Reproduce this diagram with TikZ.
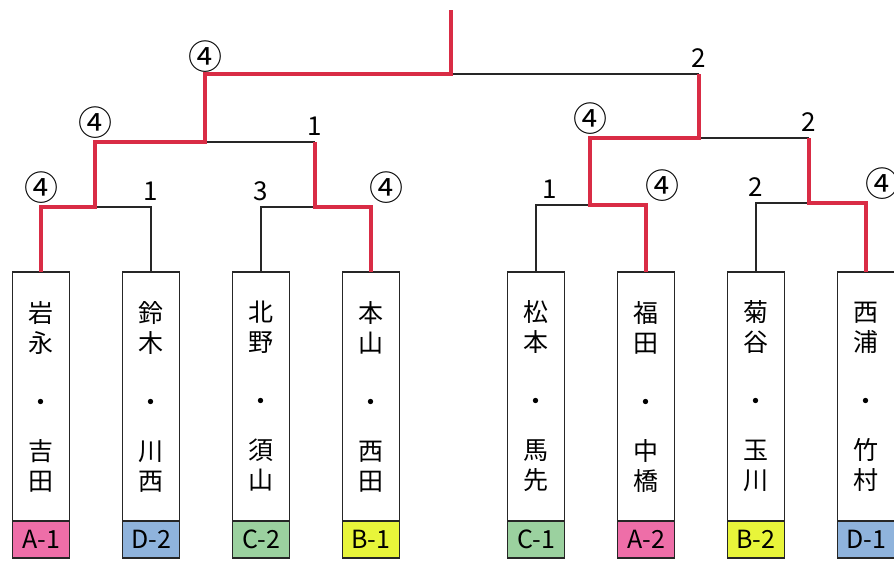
\documentclass[tikz,border=0pt]{standalone}
\usepackage{fontspec}
\newfontfamily\jpfont{Noto Sans CJK JP}
\usetikzlibrary{positioning, calc}
\definecolor{winred}{HTML}{D92C45}
\definecolor{grpA}{HTML}{EE6EA8}
\definecolor{grpB}{HTML}{E8F53A}
\definecolor{grpC}{HTML}{9BD19F}
\definecolor{grpD}{HTML}{8FB3DC}

\begin{document}
\begin{tikzpicture}[x=1pt, y=-1pt,% styles used in image code
    win/.style = {draw=winred, line width=4pt},
   lose/.style = {draw=black!85, line width=1.5pt},
 player/.style = {draw=black!85, line width=1.8pt, fill=white,
                  minimum width=57pt, minimum height=249pt,
                  inner sep=0pt, outer sep=0pt, anchor=north,
                  align=center, font=\jpfont\fontsize{25}{30}\selectfont},
   band/.style = {draw=black!85, line width=1.8pt, fill=#1,
                  minimum width=57pt, minimum height=37pt,
                  inner sep=0pt, outer sep=0pt, anchor=north,
                  font=\jpfont\fontsize{25}{25}\selectfont},
  score/.style = {inner sep=1pt, font=\jpfont\fontsize{26}{26}\selectfont},
   circ/.style = {inner sep=0pt, font=\jpfont\fontsize{34}{34}\selectfont}
                    ]
	\useasboundingbox (0,0) rectangle (894,560);

	% players
	\foreach \i/\x/\a/\b/\c/\d/\g/\t in {1/41/岩/永/吉/田/grpA/A-1,
	                                      2/151/鈴/木/川/西/grpD/D-2,
	                                      3/261/北/野/須/山/grpC/C-2,
	                                      4/371/本/山/西/田/grpB/B-1,
	                                      5/536/松/本/馬/先/grpC/C-1,
	                                      6/646/福/田/中/橋/grpA/A-2,
	                                      7/756/菊/谷/玉/川/grpB/B-2,
	                                      8/866/西/浦/竹/村/grpD/D-1}
	{
		\node[player] (p\i) at (\x,272) {\a\\\b\\[29pt]・\\[19pt]\c\\\d};
		\node[band=\g] (b\i) at (p\i.south) {\t};
	}

	% bracket joints
	\coordinate (j1) at (95,207);
	\coordinate (j2) at (315,207);
	\coordinate (j3) at (590,205);
	\coordinate (j4) at (809,203);
	\coordinate (k1) at (205,142);
	\coordinate (k2) at (699,138);
	\coordinate (f) at (451,74);
	\coordinate (top) at (451,10);

	% losers
	\draw[lose] (p2.north) |- (j1);
	\draw[lose] (p3.north) |- (j2);
	\draw[lose] (p5.north) |- (j3);
	\draw[lose] (p7.north) |- (j4);
	\draw[lose] (j2 |- k1) -- (k1);
	\draw[lose] (j4 |- k2) -- (k2);
	\draw[lose] (k2 |- f) -- (f);

	% winners
	\draw[win] (p1.north) |- (j1) |- (k1) |- (f) -- (top);
	\draw[win] (p4.north) |- (j2) -- (j2 |- k1);
	\draw[win] (p6.north) |- (j3) |- (k2) -- (k2 |- f);
	\draw[win] (p8.north) |- (j4) -- (j4 |- k2);

	% scores
	\node[circ, above=3pt] (s1) at (p1.north |- j1) {④};
	\node[score, above=5pt] (s2) at (p2.north |- j1) {1};
	\node[score, above=5pt] (s3) at (p3.north |- j2) {3};
	\node[circ, above=3pt, xshift=15pt] (s4) at (p4.north |- j2) {④};
	\node[score, above=5pt, xshift=14pt] (s5) at (p5.north |- j3) {1};
	\node[circ, above=3pt, xshift=16pt] (s6) at (p6.north |- j3) {④};
	\node[score, above=5pt] (s7) at (p7.north |- j4) {2};
	\node[circ, above=3pt, xshift=16pt] (s8) at (p8.north |- j4) {④};
	\node[circ, above=3pt] (s9) at (j1 |- k1) {④};
	\node[score, above=5pt] (s10) at (j2 |- k1) {1};
	\node[circ, above=3pt] (s11) at (j3 |- k2) {④};
	\node[score, above=5pt] (s12) at (j4 |- k2) {2};
	\node[circ, above=1pt] (s13) at (k1 |- f) {④};
	\node[score, above=5pt] (s14) at (k2 |- f) {2};
\end{tikzpicture}
\end{document}
